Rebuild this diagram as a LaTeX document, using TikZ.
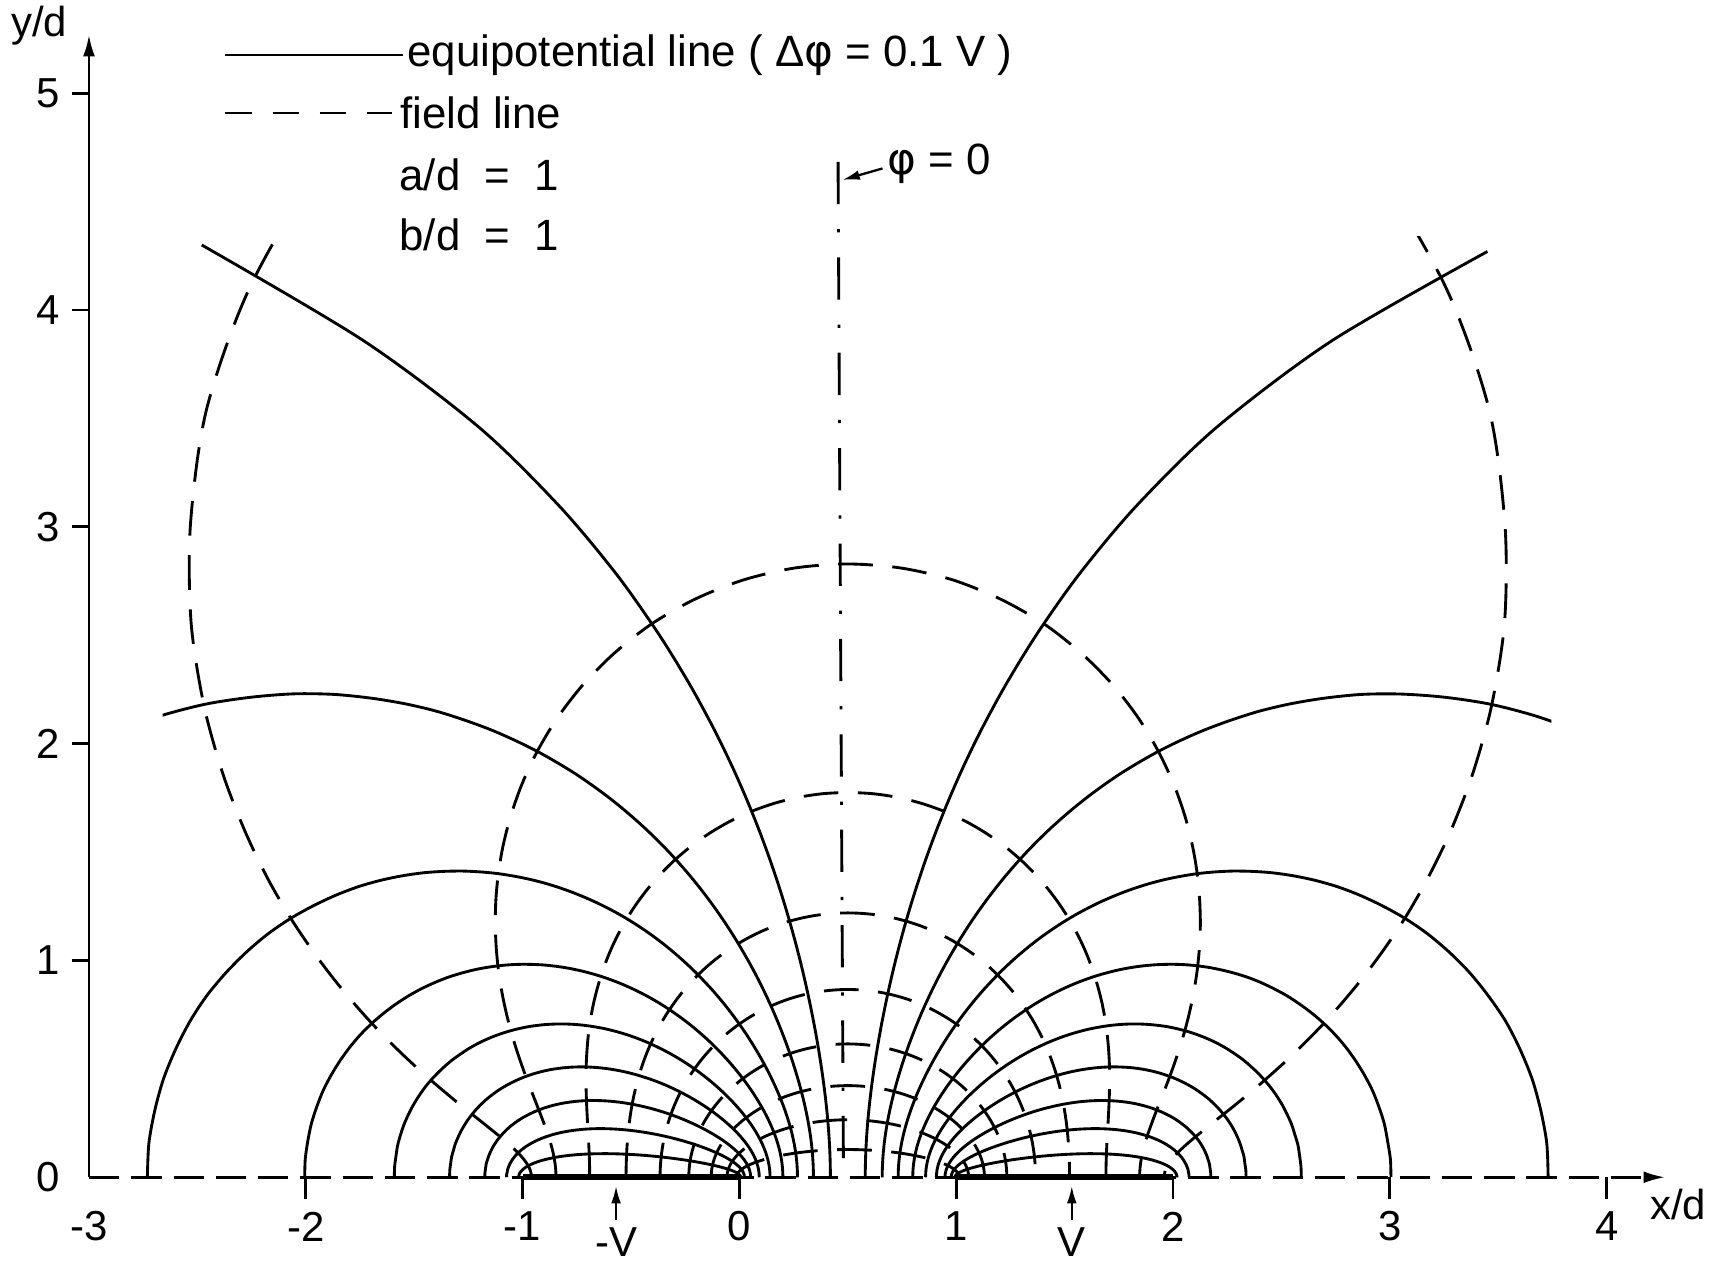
\documentclass[tikz,border=0pt]{standalone}
\usepackage{fontspec}
\setmainfont{Liberation Sans}
\newfontfamily\greekfont{DejaVu Sans}
\usetikzlibrary{arrows.meta}

% point of the exact coplanar-strip field: #1 = u/K (potential), #2 = s/K' (flux)
\newcommand\ellpoint[2]{%
  \pgfmathsetmacro\phA{(360*(#1)+asin(0.00021674*sin(360*(#1))))/2}%
  \pgfmathsetmacro\phZ{(\phA+asin(0.0294373*sin(\phA)))/2}%
  \pgfmathsetmacro\sS{sin(\phZ)}%
  \pgfmathsetmacro\cC{cos(\phZ)}%
  \pgfmathsetmacro\dD{sqrt(1-\sS*\sS/9)}%
  \pgfmathsetmacro\psB{(720*(#2)+asin(0.0012921*sin(720*(#2))))/2}%
  \pgfmathsetmacro\psA{(\psB+asin(0.0717968*sin(\psB)))/2}%
  \pgfmathsetmacro\psZ{(\psA+asin(0.5*sin(\psA)))/2}%
  \pgfmathsetmacro\sA{sin(\psZ)}%
  \pgfmathsetmacro\cA{cos(\psZ)}%
  \pgfmathsetmacro\dA{sqrt(1-8*\sA*\sA/9)}%
  \pgfmathsetmacro\dEn{\cA*\cA+\sS*\sS*\sA*\sA/9}%
  \pgfmathsetmacro\xP{0.5+0.5*\sS*\dA/\dEn}%
  \pgfmathsetmacro\yP{0.5*\cC*\dD*\sA*\cA/\dEn}%
}
% full equipotential, gap to outer axis
\newcommand\equipot[1]{%
  \gdef\pts{}%
  \foreach \ii in {0,...,64}{%
    \pgfmathsetmacro\qq{ifthenelse(\ii<25,0.025*\ii,0.6+0.01*(\ii-24))}%
    \ellpoint{#1/10}{\qq}%
    \xdef\pts{\pts(\xP,\yP)}%
  }%
  \edef\tmp{\noexpand\draw[eqline] plot[smooth] coordinates {\pts};}\tmp
}
% equipotential computed up to flux fraction #2, then ended at point #3
\newcommand\equipotto[3]{%
  \gdef\pts{}%
  \foreach \ii in {0,...,40}{%
    \pgfmathsetmacro\qq{#2*\ii/40}%
    \ellpoint{#1/10}{\qq}%
    \xdef\pts{\pts(\xP,\yP)}%
  }%
  \edef\tmp{\noexpand\draw[eqline] plot[smooth] coordinates {\pts #3};}\tmp
}
\newcommand\fieldln[1]{%
  \gdef\pts{}%
  \foreach \ii in {0,...,80}{%
    \ellpoint{(\ii-40)/40}{#1/10}%
    \xdef\pts{\pts(\xP,\yP)}%
  }%
  \edef\tmp{\noexpand\draw[fline] plot[smooth] coordinates {\pts};}\tmp
}

\begin{document}
\begin{tikzpicture}[x=2cm,y=2cm,
  eqline/.style={line width=0.75pt, line join=round},
  fline/.style={line width=0.75pt, dash pattern=on 3.2mm off 1.8mm},
  legdash/.style={line width=0.75pt, dash pattern=on 2.45mm off 1.9mm},
  axisline/.style={line width=0.75pt},
  xaxisline/.style={line width=0.75pt, dash pattern=on 2.8mm off 1.1mm},
  cline/.style={line width=0.75pt, dash pattern=on 3.9mm off 2.3mm on 0.3mm off 2.3mm},
  strip/.style={line width=1.5pt},
  lbl/.style={font=\fontsize{11.5}{13}\selectfont, inner sep=0pt},
  tlbl/.style={font=\fontsize{11}{13}\selectfont, inner sep=0pt},
  tip/.style={-{Latex[length=2mm,width=1.1mm]}},
  smalltip/.style={line width=0.6pt, -{Latex[length=1.6mm,width=0.9mm]}},
]
\useasboundingbox (-3.4105,-0.391) rectangle (4.509,5.430);

% equipotential lines
\foreach \nn in {-9,-8,-7,-6,-5,-4,-3,3,4,5,6,7,8,9}{\equipot{\nn}}
\equipotto{-1}{0.885}{(-2.48,4.30)}
\equipotto{1}{0.885}{(3.45,4.27)}
% field lines
\foreach \mm in {1,...,8}{\fieldln{\mm}}
% truncated outer lines
\begin{scope}
  \clip (-2.66,-0.2) rectangle (3.745,4.34);
  \equipot{-2}
  \equipot{2}
  \fieldln{9}
\end{scope}

% strips
\draw[strip] (-1,0) -- (0,0);
\draw[strip] (1,0) -- (2,0);

% axes
\coordinate (O) at (-3,0);
\coordinate (ytop) at (-3,5.27);
\coordinate (xend) at (4.2,0);
\coordinate (xtip) at (4.27,0);
\draw[axisline, tip] (O) -- (ytop);
\draw[xaxisline] (O) -- (xend);
\draw[axisline, tip] (xend) -- (xtip);
\node[tlbl] (ylab) at (-3.23,5.31) {y/d};
\node[tlbl] (xlab) at (4.33,-0.126) {x/d};
\foreach \k in {1,...,5}{
  \draw[axisline] (-3.08,\k) -- (-3,\k);
  \node[tlbl] (yt\k) at (-3.19,\k) {\k};
}
\node[tlbl] (yt0) at (-3.19,0) {0};
\foreach \k in {-2,...,4}{
  \draw[axisline] (\k,0) -- (\k,-0.1);
}
\foreach \k/\t in {-3/-3,-2/-2,-1/-1,0/0,1/1,2/2,3/3,4/4}{
  \node[tlbl] (xt\k) at (\k,-0.227) {\t};
}
\node[tlbl] (mV) at (-0.569,-0.297) {-V};
\node[tlbl] (pV) at (1.533,-0.297) {V};
\coordinate (mVa) at (-0.569,-0.04);
\coordinate (pVa) at (1.533,-0.04);
\draw[smalltip] (mV.north) ++(0,0.03) -- (mVa);
\draw[smalltip] (pV.north) ++(0,0.03) -- (pVa);

% phi = 0 line
\coordinate (ctop) at (0.455,4.683);
\coordinate (cbot) at (0.48,0);
\draw[cline] (ctop) -- (cbot);
\node[lbl, anchor=west] (phil) at (0.68,4.673) {{\greekfont φ} = 0};
\coordinate (phia) at (0.475,4.60);
\draw[smalltip] (phil.west) ++(-0.02,-0.02) -- (phia);

% legend
\node[lbl, anchor=west] (eqtext) at (-1.535,5.176) {equipotential line ( Δ{\greekfont φ} = 0.1 V )};
\coordinate (eqs) at (-2.371,5.176);
\draw[eqline] (eqs) -- ([xshift=-1pt]eqtext.west);
\node[lbl, anchor=west] (fltext) at (-1.566,4.909) {field line};
\coordinate (fls) at (-2.371,4.909);
\draw[legdash] (fls) -- ([xshift=-2pt]fltext.west);
\node[lbl, anchor=west] (adtext) at (-1.571,4.622) {a/d \ = \ 1};
\node[lbl, anchor=west] (bdtext) at (-1.571,4.345) {b/d \ = \ 1};
\end{tikzpicture}
\end{document}
